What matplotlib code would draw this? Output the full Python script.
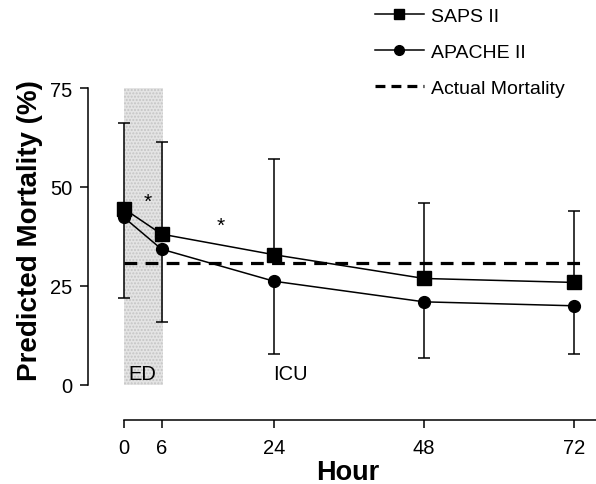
import numpy as np
import matplotlib
matplotlib.use('Agg')
import matplotlib.pyplot as plt
from matplotlib.lines import Line2D

hours = [0, 6, 24, 48, 72]
saps = [44.5, 38.1, 32.9, 26.9, 25.9]
sapsUpper = [66.2, 61.3, 57.1, 45.9, 44.0]
apache = [42.3, 34.3, 26.2, 21.0, 20.0]
apacheLower = [21.9, 15.8, 7.8, 6.7, 7.8]
actualMortality = 30.7
actualSpan = [0, 73.5]
edSpan = [0, 6.2]
asterisks = [(3.8, 46.3), (15.4, 40.3)]
regionLabels = [('ED', 3.0), ('ICU', 26.6)]
yTicks = [0, 25, 50, 75]
xTicks = [0, 6, 24, 48, 72]


def main():
    plt.rcParams['font.family'] = ['Liberation Sans', 'DejaVu Sans']
    fig = plt.figure(figsize=(5.96, 4.85), dpi=100)
    ax = fig.add_axes([88 / 596, 1 - 421 / 485, 1 - 88 / 596, (421 - 89) / 485])

    # ED shaded band
    ax.fill_between(edSpan, 0, 75.5, facecolor='#e4e4e4', hatch='.....',
                    edgecolor='#c4c4c4', linewidth=0, zorder=0)

    ax.plot(actualSpan, [actualMortality] * 2, color='black', lw=2.3,
            dashes=(4, 2.6), zorder=1)

    sapsErr = [np.zeros(len(saps)), np.array(sapsUpper) - np.array(saps)]
    apacheErr = [np.array(apache) - np.array(apacheLower), np.zeros(len(apache))]
    ax.errorbar(hours, saps, yerr=sapsErr, color='black', lw=1.1, marker='s',
                markersize=9.5, elinewidth=1.1, capsize=4.5, capthick=1.1, zorder=3)
    ax.errorbar(hours, apache, yerr=apacheErr, color='black', lw=1.1, marker='o',
                markersize=8.5, elinewidth=1.1, capsize=4.5, capthick=1.1, zorder=3)

    for x, y in asterisks:
        ax.text(x, y, '*', ha='center', va='center', fontsize=15)
    for label, x in regionLabels:
        ax.text(x, 3.0, label, ha='center', va='center', fontsize=14.5)

    ax.set_xlim(-5.76, 75.5)
    ax.set_ylim(-8.84, 75)
    ax.set_yticks(yTicks)
    ax.set_xticks(xTicks)
    ax.tick_params(direction='out', length=6, width=1.1, labelsize=14.5)
    ax.tick_params(axis='x', pad=7)
    ax.tick_params(axis='y', pad=5)
    for side in ['top', 'right']:
        ax.spines[side].set_visible(False)
    ax.spines['left'].set_bounds(0, 75)
    ax.spines['bottom'].set_bounds(0, 75.5)
    ax.spines['left'].set_linewidth(1.1)
    ax.spines['bottom'].set_linewidth(1.1)
    ax.set_ylabel('Predicted Mortality (%)', fontsize=20, fontweight='bold')
    ax.set_xlabel('Hour', fontsize=19.5, fontweight='bold')
    ax.yaxis.set_label_coords(-0.088, 0.575)
    ax.xaxis.set_label_coords(0.511, -0.117)

    handles = [Line2D([], [], color='black', lw=1.1, marker='s', markersize=7.5),
               Line2D([], [], color='black', lw=1.1, marker='o', markersize=7),
               Line2D([], [], color='black', lw=2.3, dashes=(3.1, 1.9))]
    fig.legend(handles, ['SAPS II', 'APACHE II', 'Actual Mortality'],
               loc='upper left', bbox_to_anchor=(375 / 596, 1 - 8 / 485),
               frameon=False, fontsize=14, handlelength=2.5, handletextpad=0.4,
               labelspacing=0.95, borderpad=0, borderaxespad=0)

    fig.savefig('out.png', dpi=100)


if __name__ == "__main__":
    main()
